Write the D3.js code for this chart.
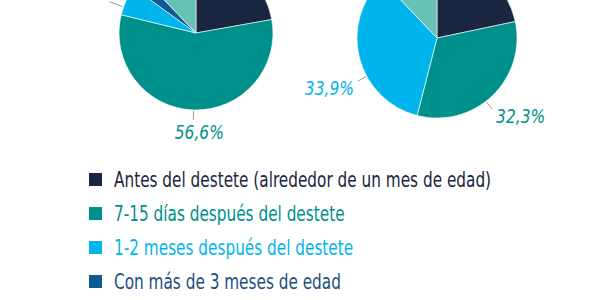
<!DOCTYPE html>
<html>
<head>
<meta charset="utf-8">
<script src="https://cdn.jsdelivr.net/npm/d3@7"></script>
<style>
  html, body { margin: 0; padding: 0; background: #fff; }
  svg { display: block; }
</style>
</head>
<body>
<svg id="chart" width="600" height="300"></svg>
<script>
// categories (legend order = slice order, clockwise from 12 o'clock)
const categories = [
    'Antes del destete (alrededor de un mes de edad)',
    '7-15 días después del destete',
    '1-2 meses después del destete',
    'Con más de 3 meses de edad',
    'Otros'
]
const colors = ['#1a2540', '#00908c', '#00b5ec', '#0f5a92', '#66c2b5']
const textColors = ['#1a2540', '#00908c', '#00b5ec', '#1b4f80', '#66c2b5']

// percentages
const leftValues = [22.2, 56.6, 6.2, 2.8, 12.2]
const rightValues = [21.7, 32.3, 33.9, 0, 12.1]

const width = 600
const height = 300

const svg = d3.select('#chart')
svg.selectAll('*').remove()

svg.append('rect')
    .attr('width', width)
    .attr('height', height)
    .attr('fill', '#fff')

// condensed look: no condensed font installed, so squeeze DejaVu Condensed
const labelFont = '"DejaVu Sans Condensed", "DejaVu Sans", sans-serif'
const labelSqueeze = 0.86
const legendSqueeze = 0.81

// pie layouts (the top of both pies is cropped off the picture)
const pies = [
    { cx: 196, cy: 33, r: 77, values: leftValues, shift: [0, 0, -5, 0, 0], lead: [10, 10, 15, 10, 10] },
    { cx: 437, cy: 38, r: 80, values: rightValues, shift: [0, 6, -14, 0, 0], lead: [10, 10, 10, 10, 10] },
]

const pie = d3.pie().sort(null).value(d => d.value)
const fmt = v => d3.format('.1f')(v).replace('.', ',') + '%'

pies.forEach(p => {
    const data = p.values.map((v, i) => ({ value: v, i: i }))
    const arcs = pie(data).filter(d => d.data.value > 0)
    const arc = d3.arc().innerRadius(0).outerRadius(p.r)

    const g = svg.append('g')
        .attr('transform', `translate(${p.cx},${p.cy})`)

    g.selectAll('path')
        .data(arcs)
        .join('path')
        .attr('d', arc)
        .attr('fill', d => colors[d.data.i])
        .attr('stroke', '#fff')
        .attr('stroke-width', 0.6)

    // leader lines + labels
    arcs.forEach(d => {
        const a = (d.startAngle + d.endAngle) / 2 + p.shift[d.data.i] * Math.PI / 180
        const sx = Math.sin(a), sy = -Math.cos(a)
        const r1 = p.r + 1, r2 = p.r + p.lead[d.data.i]
        const ex = sx * r2, ey = sy * r2
        g.append('line')
            .attr('x1', sx * r1).attr('y1', sy * r1)
            .attr('x2', ex).attr('y2', ey)
            .attr('stroke', '#9a9a9a')
            .attr('stroke-width', 1)

        let tx, ty, anchor
        if (Math.abs(sx) < 0.3) {
            tx = ex + 6
            ty = ey + (sy > 0 ? 19 : -4)
            anchor = 'middle'
        } else {
            tx = ex + (sx > 0 ? 4 : -4)
            ty = ey + 7 + (sy > 0 ? 7 : -11)
            anchor = sx > 0 ? 'start' : 'end'
        }
        g.append('text')
            .attr('transform', `translate(${tx},${ty}) scale(${labelSqueeze},1)`)
            .attr('font-family', labelFont)
            .attr('font-style', 'italic')
            .attr('font-size', 20)
            .attr('text-anchor', anchor)
            .attr('fill', textColors[d.data.i])
            .text(fmt(d.data.value))
    })
})

// legend
const legend = svg.append('g')
    .attr('transform', 'translate(89,173)')

const row = legend.selectAll('g')
    .data(categories)
    .join('g')
    .attr('transform', (d, i) => `translate(0,${i * 34})`)

row.append('rect')
    .attr('width', 13)
    .attr('height', 13)
    .attr('fill', (d, i) => colors[i])

row.append('text')
    .attr('transform', `translate(25,14) scale(${legendSqueeze},1)`)
    .attr('font-family', labelFont)
    .attr('font-size', 21)
    .attr('fill', (d, i) => textColors[i])
    .text(d => d)
</script>
</body>
</html>
